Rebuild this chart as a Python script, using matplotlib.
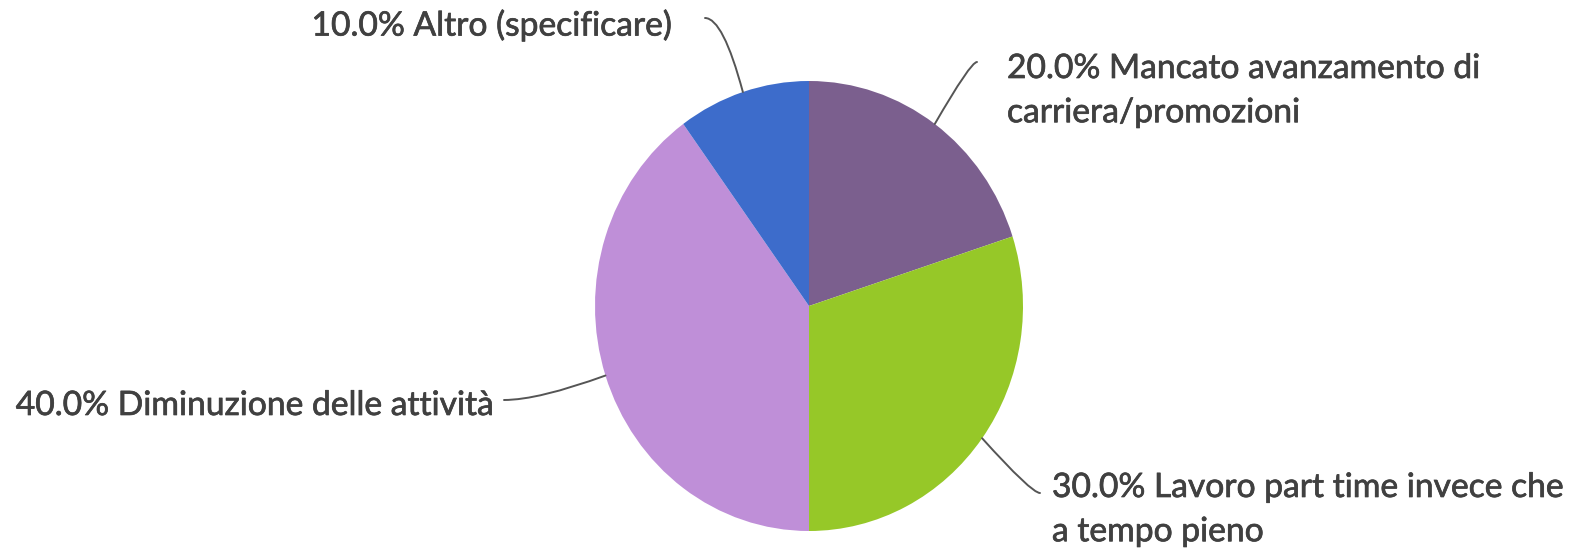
import numpy as np
import matplotlib
matplotlib.use("Agg")
import matplotlib.pyplot as plt
import matplotlib.patheffects as pe

plt.rcParams["font.family"] = ["Lato", "DejaVu Sans"]

# Share of responses, clockwise from 12 o'clock
labels = [
    "Mancato avanzamento di\ncarriera/promozioni",
    "Lavoro part time invece che\na tempo pieno",
    "Diminuzione delle attività",
    "Altro (specificare)",
]
values = [20.0, 30.0, 40.0, 10.0]
colors = ["#7B5F8E", "#96C828", "#BF8FD8", "#3D6CCB"]

W, H = 1579, 550
fig = plt.figure(figsize=(W / 100, H / 100), dpi=100)

# pie axes sized in pixels (slightly taller than wide)
cx, cy, rx, ry = 809, 306, 214, 225
ax = fig.add_axes([(cx - rx) / W, (H - cy - ry) / H, 2 * rx / W, 2 * ry / H])
wedges, _ = ax.pie(values, colors=colors, startangle=90, counterclock=False,
                   radius=1.0, wedgeprops=dict(linewidth=0))
ax.set_aspect("auto")
ax.set_xlim(-1, 1)
ax.set_ylim(-1, 1)
ax.axis("off")

# label placement (pixels from top-left): leader end, text anchor, alignment, leader bend angle
layout = [
    dict(line=(977, 62), text=(1007, 72), ha="left", angB=60),
    dict(line=(1040, 493), text=(1052, 491), ha="left", angB=-48),
    dict(line=(504, 400), text=(494, 405), ha="right", angB=20),
    dict(line=(705, 18), text=(672, 25), ha="right", angB=105),
]

fsize = 24.2
heavier = [pe.withStroke(linewidth=0.5, foreground="#404040")]
for w, lab, val, lay in zip(wedges, labels, values, layout):
    mid = np.deg2rad((w.theta1 + w.theta2) / 2)
    edge = (np.cos(mid), np.sin(mid))
    lx, ly = lay["line"]
    ax.annotate("", xy=edge, xycoords="data",
                xytext=(lx, H - ly), textcoords="figure pixels",
                arrowprops=dict(arrowstyle="-", color="#555555", lw=1.4,
                                shrinkA=0, shrinkB=0,
                                connectionstyle=f"angle3,angleA=0,angleB={lay['angB']}"))
    tx, ty = lay["text"]
    txt = f"{val:.1f}% {lab}"
    if "\n" in lab:
        # first line centred on the anchor, second line below it
        fig.text(tx / W, (H - ty + 20) / H, txt, ha=lay["ha"], va="top",
                 fontsize=fsize, color="#404040", linespacing=1.47,
                 path_effects=heavier)
    else:
        fig.text(tx / W, (H - ty) / H, txt, ha=lay["ha"], va="center",
                 fontsize=fsize, color="#404040", path_effects=heavier)

fig.savefig("out.png", dpi=100, facecolor="white")
